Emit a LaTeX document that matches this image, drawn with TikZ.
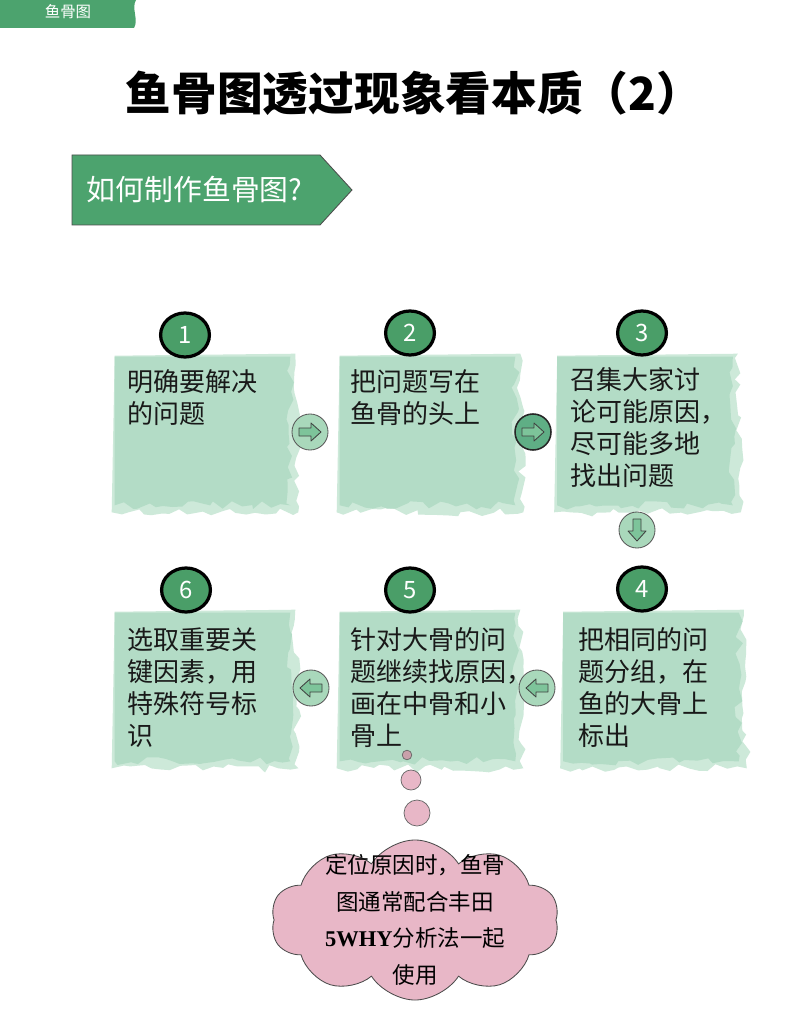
\documentclass[tikz,border=0pt]{standalone}
\usepackage{fontspec}
\setmainfont{Noto Sans CJK SC}
\newfontfamily\whyfont{Liberation Serif}
\usetikzlibrary{arrows.meta,positioning,shapes.geometric,shapes.symbols,decorations.pathmorphing}

\definecolor{fishgreen}{HTML}{4CA36E}
\definecolor{numgreen}{HTML}{4A9E68}
\definecolor{paper}{HTML}{B3DCC6}
\definecolor{papershade}{HTML}{CDE9D9}
\definecolor{btnfill}{HTML}{A9D8BB}
\definecolor{btndark}{HTML}{5FAE85}
\definecolor{arrowfill}{HTML}{7DC49A}
\definecolor{cloudpink}{HTML}{E8B7C7}
\definecolor{dotpink}{HTML}{C9A0AA}

\begin{document}
\begin{tikzpicture}[
  x=0.025cm, y=-0.025cm,
  numbox/.style={ellipse, draw=black, line width=2.3pt, fill=numgreen, text=white, minimum width=1.22cm, minimum height=1.1cm, inner sep=0pt, font=\fontsize{17}{17}\selectfont},
  paperbox/.style={minimum width=4.375cm, minimum height=3.7cm, inner sep=0pt},
  steptext/.style={anchor=north west, align=left, inner sep=0pt, text=black!90, font=\fontsize{18.5}{22.8}\selectfont},
  torn/.style={decoration={random steps, segment length=6pt, amplitude=3pt}},
  btn/.style={circle, draw=black!65, line width=0.6pt, fill=btnfill, minimum size=0.9cm, inner sep=0pt},
  btnarrow/.pic={\draw[fill=arrowfill, draw=black!75, line width=0.6pt, line join=round]
      (-11,-4) -- (1,-4) -- (1,-9) -- (11,0) -- (1,9) -- (1,4) -- (-11,4) -- cycle;},
  bubble/.style={circle, draw=black!60, line width=0.5pt, fill=cloudpink, inner sep=0pt}
]
\useasboundingbox (0,0) rectangle (808,1024);
\fill[white] (0,0) rectangle (808,1024);
\pgfmathsetseed{11}

\fill[fishgreen] (0,0) -- (136,0) .. controls (131,8) and (139,20) .. (134,28) -- (0,28) -- cycle;
\node[text=white, font=\fontsize{11}{11}\selectfont] (tab) at (68,12) {鱼骨图};

\node[font=\fontsize{32.5}{32.5}\bfseries\selectfont] (title) at (414,93) {鱼骨图透过现象看本质（2）};

\draw[fill=fishgreen, draw=black!70, line width=0.6pt] (72,155) -- (320,155) -- (352,190) -- (320,225) -- (72,225) -- cycle;
\node[anchor=west, text=white, font=\fontsize{20.5}{20.5}\selectfont] (howto) at (82,190) {如何制作鱼骨图?};

\node[paperbox] (p1) at (202.5,431) {};
\node[paperbox] (p2) at (427.5,431) {};
\node[paperbox] (p3) at (645,431) {};
\node[paperbox] (p4) at (651,687) {};
\node[paperbox] (p5) at (427.5,687) {};
\node[paperbox] (p6) at (202.5,687) {};
\foreach \p in {p1,p2,p3,p4,p5,p6}{
  \fill[papershade, torn] ([shift={(0,-1)}]\p.north west) -- ([shift={(5,-3)}]\p.north east) decorate {-- ([shift={(8,7)}]\p.south east) -- ([shift={(-3,7)}]\p.south west)} -- cycle;
  \fill[paper, torn] (\p.north west) -- (\p.north east) decorate {-- (\p.south east) -- (\p.south west)} -- cycle;
}

\node[numbox] (n1) at (185,335) {1};
\node[numbox] (n2) at (410,333) {2};
\node[numbox] (n3) at (642,333) {3};
\node[numbox] (n4) at (642,589) {4};
\node[numbox] (n5) at (410,590) {5};
\node[numbox] (n6) at (186,590) {6};

\node[steptext] (s1) at (127,369) {明确要解决\\的问题};
\node[steptext] (s2) at (350,369) {把问题写在\\鱼骨的头上};
\node[steptext] (s3) at (570,367) {召集大家讨\\论可能原因，\\尽可能多地\\找出问题};
\node[steptext] (s4) at (578,627) {把相同的问\\题分组，在\\鱼的大骨上\\标出};
\node[steptext] (s5) at (350,627) {针对大骨的问\\题继续找原因，\\画在中骨和小\\骨上};
\node[steptext] (s6) at (127,627) {选取重要关\\键因素，用\\特殊符号标\\识};

\node[btn] (a12) at (310,432) {};
\node[btn, fill=btndark, draw=black!85, line width=1.1pt] (a23) at (533,432) {};
\node[btn] (a34) at (637,530) {};
\node[btn] (a45) at (537,688) {};
\node[btn] (a56) at (311,688) {};
\pic at (a12) {btnarrow};
\pic at (a23) {btnarrow};
\pic[rotate=-90] at (a34) {btnarrow};
\pic[rotate=180] at (a45) {btnarrow};
\pic[rotate=180] at (a56) {btnarrow};

\node[bubble, minimum size=0.24cm, fill=dotpink] (dot1) at (407,755) {};
\node[bubble, minimum size=0.5cm] (dot2) at (411,780) {};
\node[bubble, minimum size=0.65cm] (dot3) at (417,813) {};

\node[cloud, cloud puffs=10, cloud puff arc=115, aspect=1.8, draw=black!70, line width=0.6pt, fill=cloudpink, minimum width=7.2cm, minimum height=4.0cm] (tip) at (415,920) {};
\node[align=center, font=\fontsize{16}{26}\selectfont] (tiptext) at (tip.center) {定位原因时，鱼骨\\图通常配合丰田\\{\whyfont\bfseries 5WHY}分析法一起\\使用};
\end{tikzpicture}
\end{document}
